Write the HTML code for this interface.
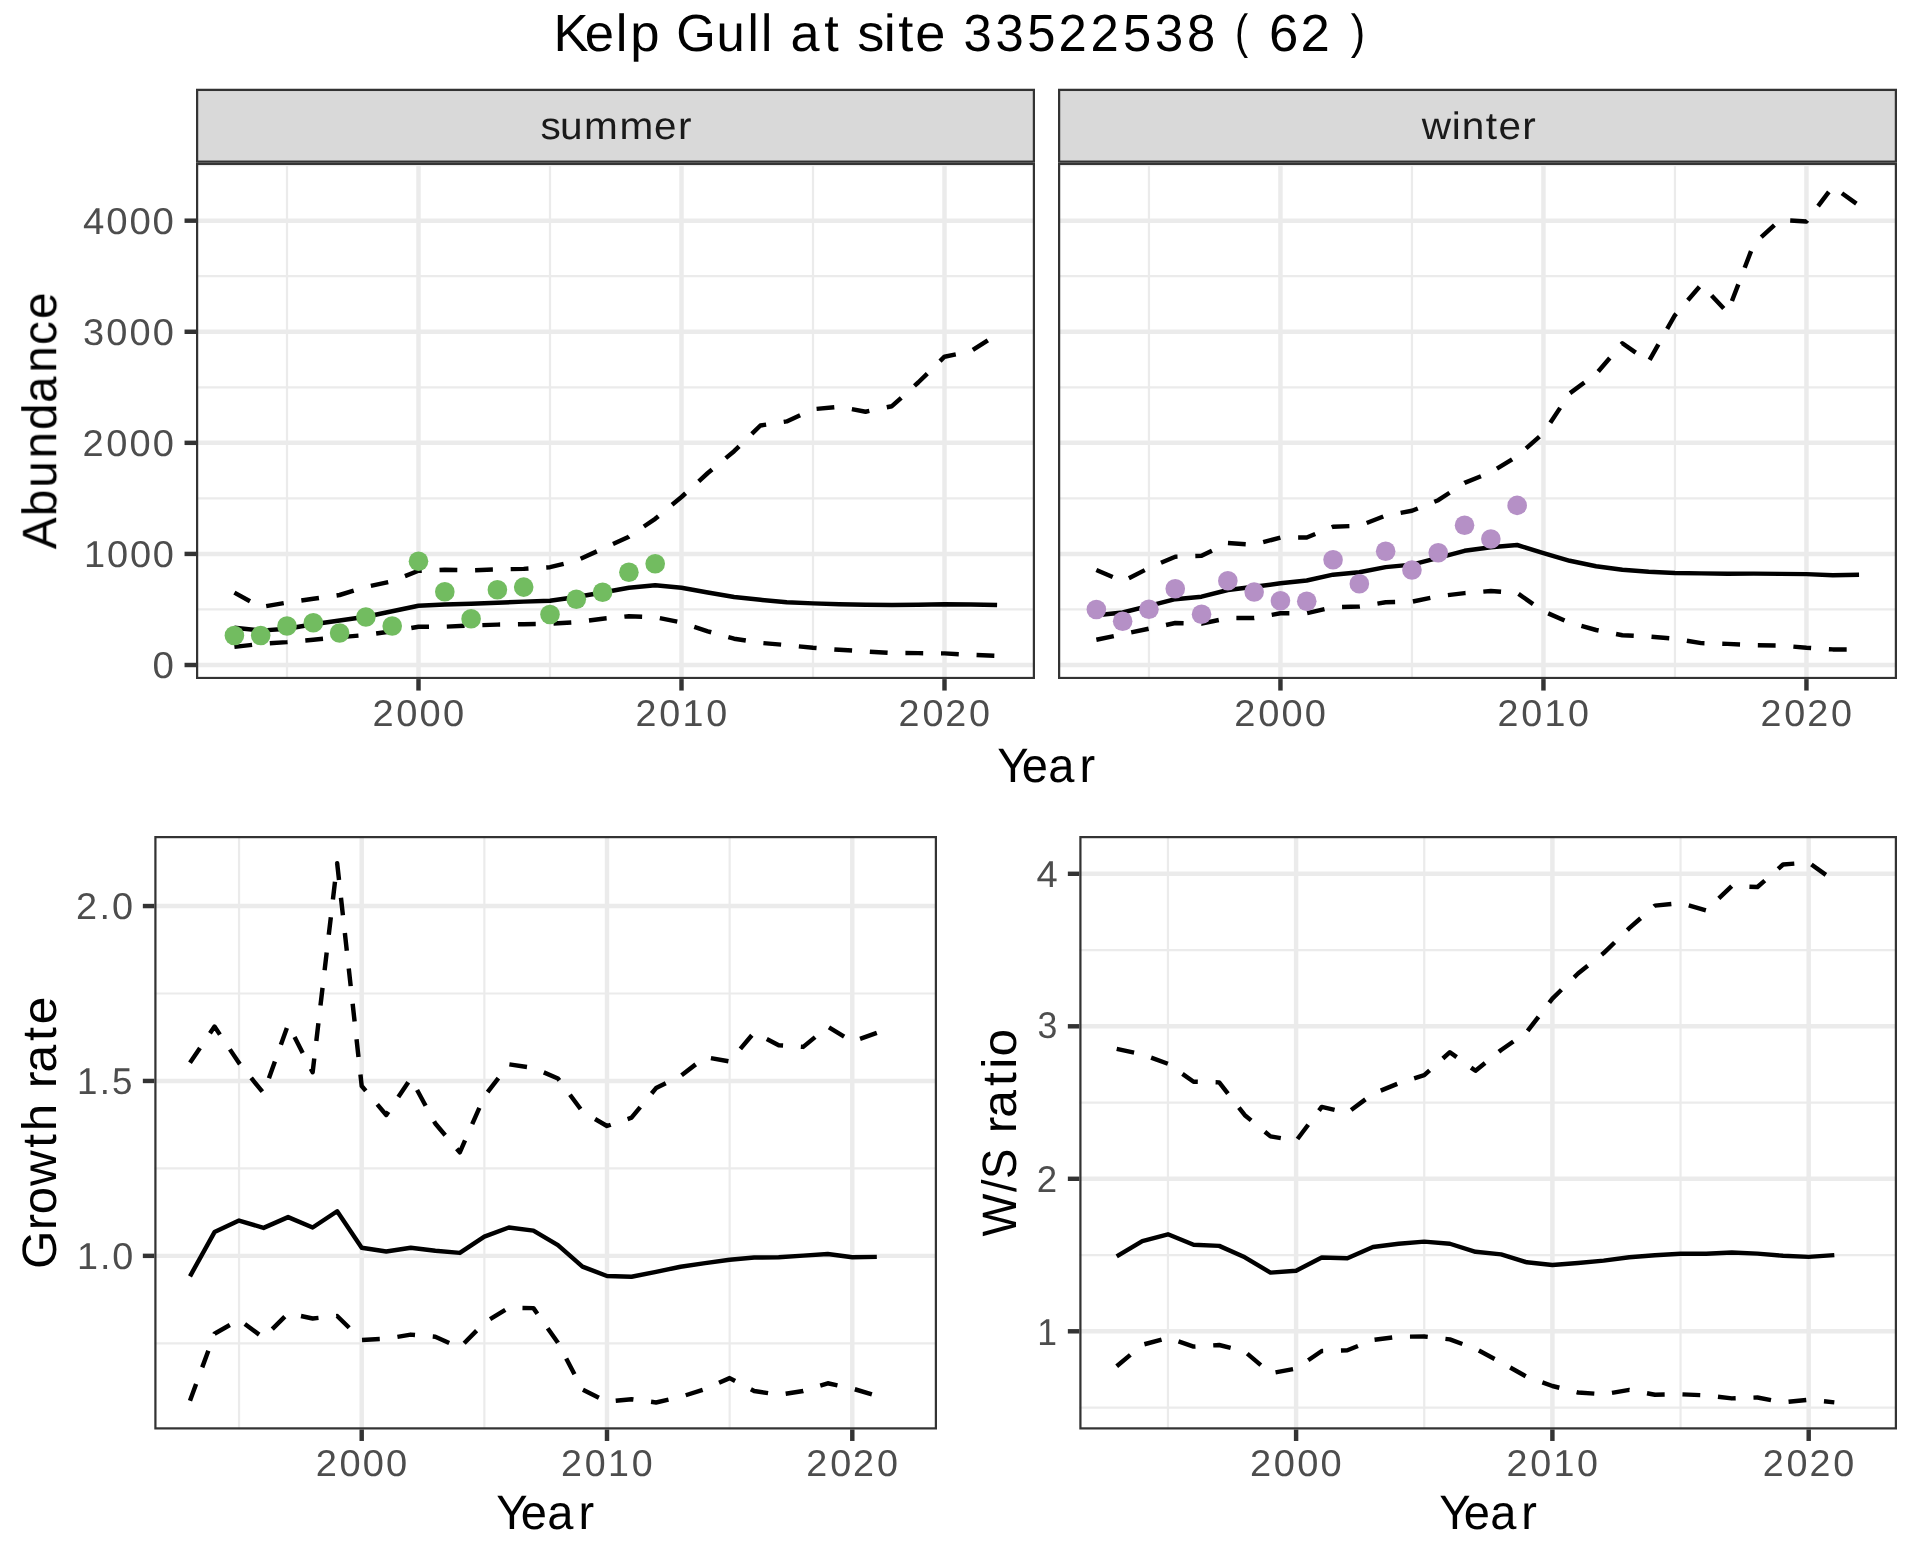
<!DOCTYPE html>
<html lang="en"><head><meta charset="utf-8"><title>Kelp Gull at site 33522538 ( 62 )</title>
<style>
html,body{margin:0;padding:0;background:#fff;}
body{width:1920px;height:1560px;overflow:hidden;}
svg{display:block;}
text{font-family:"Liberation Sans",sans-serif;text-rendering:geometricPrecision;}
.gM{stroke:#EBEBEB;stroke-width:4.45;fill:none}
.gm{stroke:#EBEBEB;stroke-width:2.22;fill:none}
.ln{stroke:#000;stroke-width:4.45;fill:none;stroke-linejoin:round;stroke-linecap:butt}
.ds{stroke:#000;stroke-width:4.45;fill:none;stroke-linejoin:round;stroke-linecap:butt;stroke-dasharray:17.8 17.8}
.bd{stroke:#333333;stroke-width:4.45;fill:none}
.tk{stroke:#333333;stroke-width:4.45;fill:none}
</style></head><body>
<svg width="1920" height="1560" viewBox="0 0 1920 1560">
<rect x="0" y="0" width="1920" height="1560" fill="#ffffff"/>
<defs>
<clipPath id="cs"><rect x="196" y="162.75" width="839" height="516.35"/></clipPath>
<clipPath id="cw"><rect x="1058" y="162.75" width="839" height="516.35"/></clipPath>
<clipPath id="cbl"><rect x="154.3" y="836" width="782.7" height="593.5"/></clipPath>
<clipPath id="cbr"><rect x="1079.3" y="836" width="817.7" height="593.5"/></clipPath>
<clipPath id="css"><rect x="196" y="88.8" width="839" height="73.95"/></clipPath>
<clipPath id="csw"><rect x="1058" y="88.8" width="839" height="73.95"/></clipPath>
</defs>
<g clip-path="url(#cs)">
<rect x="196" y="162.75" width="839" height="516.35" fill="#ffffff"/>
<line class="gm" x1="196" x2="1035" y1="609.46" y2="609.46"/>
<line class="gm" x1="196" x2="1035" y1="498.38" y2="498.38"/>
<line class="gm" x1="196" x2="1035" y1="387.3" y2="387.3"/>
<line class="gm" x1="196" x2="1035" y1="276.22" y2="276.22"/>
<line class="gm" x1="196" x2="1035" y1="165.14" y2="165.14"/>
<line class="gm" x1="287" x2="287" y1="162.75" y2="679.1"/>
<line class="gm" x1="550" x2="550" y1="162.75" y2="679.1"/>
<line class="gm" x1="813" x2="813" y1="162.75" y2="679.1"/>
<line class="gM" x1="196" x2="1035" y1="665" y2="665"/>
<line class="gM" x1="196" x2="1035" y1="553.92" y2="553.92"/>
<line class="gM" x1="196" x2="1035" y1="442.84" y2="442.84"/>
<line class="gM" x1="196" x2="1035" y1="331.76" y2="331.76"/>
<line class="gM" x1="196" x2="1035" y1="220.68" y2="220.68"/>
<line class="gM" x1="418.5" x2="418.5" y1="162.75" y2="679.1"/>
<line class="gM" x1="681.5" x2="681.5" y1="162.75" y2="679.1"/>
<line class="gM" x1="944.5" x2="944.5" y1="162.75" y2="679.1"/>
<polyline class="ln" points="234.4,627.7 260.7,630.6 287,628.7 313.3,624.2 339.6,620.5 365.9,616.7 392.2,611.3 418.5,605.8 444.8,604.5 471.1,603.8 497.4,602.7 523.7,601.6 550,600.8 576.3,597 602.6,592.5 628.9,587.8 655.2,585.3 681.5,587.8 707.8,592.5 734.1,597 760.4,599.8 786.7,602.3 813,603.4 839.3,604.2 865.6,604.7 891.9,605 918.2,604.8 944.5,604.2 970.8,604.5 997.1,605"/>
<polyline class="ds" points="234.4,592.6 260.7,607.1 287,602.6 313.3,598.8 339.6,595 365.9,587 392.2,581.2 418.5,570.8 444.8,569.8 471.1,570.3 497.4,569.4 523.7,568.9 550,567.2 576.3,560.8 602.6,548.7 628.9,536.7 655.2,518.8 681.5,497 707.8,473 734.1,451.2 760.4,425.5 786.7,421.4 813,409.2 839.3,406.8 865.6,411.7 891.9,406.2 918.2,382.5 944.5,356.7 970.8,351.3 997.1,334.3"/>
<polyline class="ds" points="234.4,646.9 260.7,643.9 287,642.1 313.3,639.7 339.6,637.2 365.9,635 392.2,631.3 418.5,626.7 444.8,626.7 471.1,625.5 497.4,624.6 523.7,624.2 550,623.8 576.3,622.2 602.6,618.7 628.9,616.2 655.2,617.2 681.5,622.5 707.8,631.3 734.1,638.7 760.4,642.9 786.7,645.1 813,647.8 839.3,649.8 865.6,651.4 891.9,653 918.2,653.1 944.5,653.4 970.8,654.8 997.1,655.8"/>
<circle cx="234.4" cy="635.5" r="9.8" fill="#72BC60"/>
<circle cx="260.7" cy="635.5" r="9.8" fill="#72BC60"/>
<circle cx="287" cy="626" r="9.8" fill="#72BC60"/>
<circle cx="313.3" cy="622.8" r="9.8" fill="#72BC60"/>
<circle cx="339.6" cy="633" r="9.8" fill="#72BC60"/>
<circle cx="365.9" cy="617" r="9.8" fill="#72BC60"/>
<circle cx="392.2" cy="626" r="9.8" fill="#72BC60"/>
<circle cx="418.5" cy="561.2" r="9.8" fill="#72BC60"/>
<circle cx="444.8" cy="591.8" r="9.8" fill="#72BC60"/>
<circle cx="471.1" cy="618.8" r="9.8" fill="#72BC60"/>
<circle cx="497.4" cy="589.7" r="9.8" fill="#72BC60"/>
<circle cx="523.7" cy="587.1" r="9.8" fill="#72BC60"/>
<circle cx="550" cy="614.5" r="9.8" fill="#72BC60"/>
<circle cx="576.3" cy="599.3" r="9.8" fill="#72BC60"/>
<circle cx="602.6" cy="592.3" r="9.8" fill="#72BC60"/>
<circle cx="628.9" cy="572.2" r="9.8" fill="#72BC60"/>
<circle cx="655.2" cy="563.8" r="9.8" fill="#72BC60"/>
<rect class="bd" x="196" y="162.75" width="839" height="516.35"/>
</g>
<line class="tk" x1="418.5" x2="418.5" y1="679.1" y2="690.56"/>
<line class="tk" x1="681.5" x2="681.5" y1="679.1" y2="690.56"/>
<line class="tk" x1="944.5" x2="944.5" y1="679.1" y2="690.56"/>
<line class="tk" x1="184.54" x2="196" y1="665" y2="665"/>
<line class="tk" x1="184.54" x2="196" y1="553.92" y2="553.92"/>
<line class="tk" x1="184.54" x2="196" y1="442.84" y2="442.84"/>
<line class="tk" x1="184.54" x2="196" y1="331.76" y2="331.76"/>
<line class="tk" x1="184.54" x2="196" y1="220.68" y2="220.68"/>
<g clip-path="url(#cw)">
<rect x="1058" y="162.75" width="839" height="516.35" fill="#ffffff"/>
<line class="gm" x1="1058" x2="1897" y1="609.46" y2="609.46"/>
<line class="gm" x1="1058" x2="1897" y1="498.38" y2="498.38"/>
<line class="gm" x1="1058" x2="1897" y1="387.3" y2="387.3"/>
<line class="gm" x1="1058" x2="1897" y1="276.22" y2="276.22"/>
<line class="gm" x1="1058" x2="1897" y1="165.14" y2="165.14"/>
<line class="gm" x1="1148.95" x2="1148.95" y1="162.75" y2="679.1"/>
<line class="gm" x1="1411.95" x2="1411.95" y1="162.75" y2="679.1"/>
<line class="gm" x1="1674.95" x2="1674.95" y1="162.75" y2="679.1"/>
<line class="gM" x1="1058" x2="1897" y1="665" y2="665"/>
<line class="gM" x1="1058" x2="1897" y1="553.92" y2="553.92"/>
<line class="gM" x1="1058" x2="1897" y1="442.84" y2="442.84"/>
<line class="gM" x1="1058" x2="1897" y1="331.76" y2="331.76"/>
<line class="gM" x1="1058" x2="1897" y1="220.68" y2="220.68"/>
<line class="gM" x1="1280.45" x2="1280.45" y1="162.75" y2="679.1"/>
<line class="gM" x1="1543.45" x2="1543.45" y1="162.75" y2="679.1"/>
<line class="gM" x1="1806.45" x2="1806.45" y1="162.75" y2="679.1"/>
<polyline class="ln" points="1096.35,615.3 1122.65,612.5 1148.95,605.8 1175.25,599.2 1201.55,596.7 1227.85,590 1254.15,586.7 1280.45,583.3 1306.75,580.5 1333.05,574.7 1359.35,572.2 1385.65,567.1 1411.95,564.6 1438.25,557.9 1464.55,550.8 1490.85,547.3 1517.15,545 1543.45,553.1 1569.75,560.8 1596.05,566.2 1622.35,569.8 1648.65,571.7 1674.95,573 1701.25,573.4 1727.55,573.75 1753.85,573.6 1780.15,573.9 1806.45,574.1 1832.75,575.2 1859.05,574.7"/>
<polyline class="ds" points="1096.35,570 1122.65,581.3 1148.95,568 1175.25,556.7 1201.55,555.8 1227.85,543 1254.15,544.7 1280.45,537.5 1306.75,537.5 1333.05,526.7 1359.35,525.8 1385.65,515.6 1411.95,510.8 1438.25,500.2 1464.55,482.9 1490.85,472.3 1517.15,456.3 1543.45,433.1 1569.75,393.3 1596.05,374 1622.35,343.3 1648.65,361.7 1674.95,315.2 1701.25,284.6 1727.55,312.5 1753.85,243.8 1780.15,220 1806.45,221.5 1832.75,186.7 1859.05,205.6"/>
<polyline class="ds" points="1096.35,639.7 1122.65,634.2 1148.95,628.7 1175.25,623 1201.55,623.7 1227.85,618 1254.15,618 1280.45,613.3 1306.75,613.3 1333.05,607.2 1359.35,606.5 1385.65,602.3 1411.95,601.7 1438.25,596.3 1464.55,593.1 1490.85,591 1517.15,592.9 1543.45,611.3 1569.75,622.7 1596.05,630 1622.35,635.2 1648.65,636.6 1674.95,638.75 1701.25,643.1 1727.55,643.9 1753.85,645.2 1780.15,645.5 1806.45,647.8 1832.75,649.4 1859.05,649.4"/>
<circle cx="1096.35" cy="609.5" r="9.8" fill="#B590C6"/>
<circle cx="1122.65" cy="621.3" r="9.8" fill="#B590C6"/>
<circle cx="1148.95" cy="609.2" r="9.8" fill="#B590C6"/>
<circle cx="1175.25" cy="588.8" r="9.8" fill="#B590C6"/>
<circle cx="1201.55" cy="614.3" r="9.8" fill="#B590C6"/>
<circle cx="1227.85" cy="580.8" r="9.8" fill="#B590C6"/>
<circle cx="1254.15" cy="592" r="9.8" fill="#B590C6"/>
<circle cx="1280.45" cy="600.8" r="9.8" fill="#B590C6"/>
<circle cx="1306.75" cy="601.2" r="9.8" fill="#B590C6"/>
<circle cx="1333.05" cy="559.7" r="9.8" fill="#B590C6"/>
<circle cx="1359.35" cy="583.7" r="9.8" fill="#B590C6"/>
<circle cx="1385.65" cy="551.2" r="9.8" fill="#B590C6"/>
<circle cx="1411.95" cy="570" r="9.8" fill="#B590C6"/>
<circle cx="1438.25" cy="552.7" r="9.8" fill="#B590C6"/>
<circle cx="1464.55" cy="525.2" r="9.8" fill="#B590C6"/>
<circle cx="1490.85" cy="539" r="9.8" fill="#B590C6"/>
<circle cx="1517.15" cy="505.4" r="9.8" fill="#B590C6"/>
<rect class="bd" x="1058" y="162.75" width="839" height="516.35"/>
</g>
<line class="tk" x1="1280.45" x2="1280.45" y1="679.1" y2="690.56"/>
<line class="tk" x1="1543.45" x2="1543.45" y1="679.1" y2="690.56"/>
<line class="tk" x1="1806.45" x2="1806.45" y1="679.1" y2="690.56"/>
<g clip-path="url(#cbl)">
<rect x="154.3" y="836" width="782.7" height="593.5" fill="#ffffff"/>
<line class="gm" x1="154.3" x2="937" y1="1343.3" y2="1343.3"/>
<line class="gm" x1="154.3" x2="937" y1="1168.4" y2="1168.4"/>
<line class="gm" x1="154.3" x2="937" y1="993.5" y2="993.5"/>
<line class="gm" x1="239.05" x2="239.05" y1="836" y2="1429.5"/>
<line class="gm" x1="484.35" x2="484.35" y1="836" y2="1429.5"/>
<line class="gm" x1="729.65" x2="729.65" y1="836" y2="1429.5"/>
<line class="gM" x1="154.3" x2="937" y1="1255.85" y2="1255.85"/>
<line class="gM" x1="154.3" x2="937" y1="1080.95" y2="1080.95"/>
<line class="gM" x1="154.3" x2="937" y1="906.05" y2="906.05"/>
<line class="gM" x1="361.7" x2="361.7" y1="836" y2="1429.5"/>
<line class="gM" x1="607" x2="607" y1="836" y2="1429.5"/>
<line class="gM" x1="852.3" x2="852.3" y1="836" y2="1429.5"/>
<polyline class="ln" points="189.99,1276.3 214.52,1232.1 239.05,1220.6 263.58,1227.9 288.11,1217.1 312.64,1227.5 337.17,1211.25 361.7,1247.7 386.23,1251.5 410.76,1247.7 435.29,1250.8 459.82,1252.9 484.35,1236.7 508.88,1227.5 533.41,1230.6 557.94,1245.2 582.47,1266.7 607,1276 631.53,1276.7 656.06,1271.9 680.59,1266.7 705.12,1263.1 729.65,1259.8 754.18,1257.5 778.71,1257.3 803.24,1255.6 827.77,1254 852.3,1257.3 876.83,1256.9"/>
<polyline class="ds" points="189.99,1062.8 214.52,1026.6 239.05,1063 263.58,1093.2 288.11,1024.5 312.64,1072.3 337.17,863.2 361.7,1086 386.23,1115 410.76,1078.4 435.29,1123.5 459.82,1152.4 484.35,1096.5 508.88,1064.3 533.41,1067.9 557.94,1078.5 582.47,1111.6 607,1126 631.53,1117.7 656.06,1088.1 680.59,1076 705.12,1057.1 729.65,1061.5 754.18,1032.5 778.71,1045.2 803.24,1046.9 827.77,1026.7 852.3,1041.7 876.83,1032.9"/>
<polyline class="ds" points="189.99,1400.8 214.52,1333.75 239.05,1319.8 263.58,1337.9 288.11,1313.3 312.64,1318.5 337.17,1316 361.7,1340 386.23,1338.75 410.76,1334.6 435.29,1336.7 459.82,1347.7 484.35,1322.7 508.88,1307.7 533.41,1308.1 557.94,1342.7 582.47,1389.6 607,1401.7 631.53,1399.2 656.06,1402.5 680.59,1396.9 705.12,1389 729.65,1378.1 754.18,1391 778.71,1394.8 803.24,1391 827.77,1383.3 852.3,1388.5 876.83,1395.8"/>
<rect class="bd" x="154.3" y="836" width="782.7" height="593.5"/>
</g>
<line class="tk" x1="361.7" x2="361.7" y1="1429.5" y2="1440.96"/>
<line class="tk" x1="607" x2="607" y1="1429.5" y2="1440.96"/>
<line class="tk" x1="852.3" x2="852.3" y1="1429.5" y2="1440.96"/>
<line class="tk" x1="142.84" x2="154.3" y1="1255.85" y2="1255.85"/>
<line class="tk" x1="142.84" x2="154.3" y1="1080.95" y2="1080.95"/>
<line class="tk" x1="142.84" x2="154.3" y1="906.05" y2="906.05"/>
<g clip-path="url(#cbr)">
<rect x="1079.3" y="836" width="817.7" height="593.5" fill="#ffffff"/>
<line class="gm" x1="1079.3" x2="1897" y1="1407.55" y2="1407.55"/>
<line class="gm" x1="1079.3" x2="1897" y1="1255.05" y2="1255.05"/>
<line class="gm" x1="1079.3" x2="1897" y1="1102.55" y2="1102.55"/>
<line class="gm" x1="1079.3" x2="1897" y1="950.05" y2="950.05"/>
<line class="gm" x1="1167.95" x2="1167.95" y1="836" y2="1429.5"/>
<line class="gm" x1="1424.25" x2="1424.25" y1="836" y2="1429.5"/>
<line class="gm" x1="1680.55" x2="1680.55" y1="836" y2="1429.5"/>
<line class="gM" x1="1079.3" x2="1897" y1="1331.3" y2="1331.3"/>
<line class="gM" x1="1079.3" x2="1897" y1="1178.8" y2="1178.8"/>
<line class="gM" x1="1079.3" x2="1897" y1="1026.3" y2="1026.3"/>
<line class="gM" x1="1079.3" x2="1897" y1="873.8" y2="873.8"/>
<line class="gM" x1="1296.1" x2="1296.1" y1="836" y2="1429.5"/>
<line class="gM" x1="1552.4" x2="1552.4" y1="836" y2="1429.5"/>
<line class="gM" x1="1808.7" x2="1808.7" y1="836" y2="1429.5"/>
<polyline class="ln" points="1116.69,1256.4 1142.32,1241.1 1167.95,1234.3 1193.58,1244.8 1219.21,1245.9 1244.84,1257.3 1270.47,1272.6 1296.1,1270.7 1321.73,1257.5 1347.36,1258.2 1372.99,1247 1398.62,1243.75 1424.25,1241.6 1449.88,1243.75 1475.51,1251.8 1501.14,1254.4 1526.77,1262.3 1552.4,1265 1578.03,1263 1603.66,1260.6 1629.29,1257.3 1654.92,1255.3 1680.55,1253.8 1706.18,1253.8 1731.81,1252.5 1757.44,1253.6 1783.07,1255.8 1808.7,1256.9 1834.33,1255.1"/>
<polyline class="ds" points="1116.69,1048.9 1142.32,1054.4 1167.95,1063.8 1193.58,1081.7 1219.21,1082.4 1244.84,1115.2 1270.47,1136.4 1296.1,1140.8 1321.73,1106.9 1347.36,1112.8 1372.99,1093.8 1398.62,1083.3 1424.25,1075.2 1449.88,1052.2 1475.51,1070.8 1501.14,1050 1526.77,1032.1 1552.4,998.6 1578.03,973.5 1603.66,953.1 1629.29,928.2 1654.92,905.6 1680.55,903 1706.18,910.4 1731.81,885.9 1757.44,887 1783.07,864.5 1808.7,862.5 1834.33,880.9"/>
<polyline class="ds" points="1116.69,1366.3 1142.32,1344.8 1167.95,1337.8 1193.58,1346.6 1219.21,1345 1244.84,1351.6 1270.47,1373.3 1296.1,1368.5 1321.73,1351 1347.36,1350.3 1372.99,1340 1398.62,1336.7 1424.25,1336.5 1449.88,1339.4 1475.51,1348.8 1501.14,1362.4 1526.77,1376.8 1552.4,1386 1578.03,1392.5 1603.66,1394.3 1629.29,1389.9 1654.92,1394.7 1680.55,1394.3 1706.18,1395.4 1731.81,1398.4 1757.44,1397.5 1783.07,1402.4 1808.7,1399.7 1834.33,1402.4"/>
<rect class="bd" x="1079.3" y="836" width="817.7" height="593.5"/>
</g>
<line class="tk" x1="1296.1" x2="1296.1" y1="1429.5" y2="1440.96"/>
<line class="tk" x1="1552.4" x2="1552.4" y1="1429.5" y2="1440.96"/>
<line class="tk" x1="1808.7" x2="1808.7" y1="1429.5" y2="1440.96"/>
<line class="tk" x1="1067.84" x2="1079.3" y1="1331.3" y2="1331.3"/>
<line class="tk" x1="1067.84" x2="1079.3" y1="1178.8" y2="1178.8"/>
<line class="tk" x1="1067.84" x2="1079.3" y1="1026.3" y2="1026.3"/>
<line class="tk" x1="1067.84" x2="1079.3" y1="873.8" y2="873.8"/>
<g clip-path="url(#css)"><rect x="196" y="88.8" width="839" height="73.95" fill="#D9D9D9" stroke="#333333" stroke-width="4.45"/></g>
<g clip-path="url(#csw)"><rect x="1058" y="88.8" width="839" height="73.95" fill="#D9D9D9" stroke="#333333" stroke-width="4.45"/></g>
<g opacity="0.999">
<text transform="scale(1.0088,1)" x="548.63 579.62 610.43 624.71" y="51" font-size="52.2" fill="#000000">Kelp</text>
<text transform="scale(0.9739,1)" x="694.32 735.6 767.46 781.5" y="51" font-size="52.2" fill="#000000">Gull</text>
<text transform="scale(1.0004,1)" x="790.2 824.02" y="51" font-size="52.2" fill="#000000">at</text>
<text transform="scale(1.0403,1)" x="824.06 849.55 863.51 879.88" y="51" font-size="52.2" fill="#000000">site</text>
<text transform="scale(0.9727,1)" x="990.62 1023.44 1055.99 1088.33 1121.15 1154.45 1187.54 1220.29" y="51" font-size="52.2" fill="#000000">33522538</text>
<text transform="scale(0.8285,1)" x="1490.7" y="47.7" font-size="47.8" fill="#000000">(</text>
<text transform="scale(1.0094,1)" x="1257.3 1288.28" y="51" font-size="52.2" fill="#000000">62</text>
<text transform="scale(0.9074,1)" x="1488.58" y="47.7" font-size="47.8" fill="#000000">)</text>
<text transform="scale(1.0569,1)" x="511.46 529.98 552.58 586.19 618.91 641.45" y="138.6" font-size="38.4" fill="#1A1A1A">summer</text>
<text transform="scale(1.0571,1)" x="1344.94 1373.4 1382.71 1405.51 1417.64 1440.1" y="138.6" font-size="38.4" fill="#1A1A1A">winter</text>
<text transform="scale(1.0287,1)" x="80.7 103.23 125.77 148.3" y="233.83" font-size="37.3" fill="#4D4D4D">4000</text>
<text transform="scale(1.0186,1)" x="81.54 104.32 127.14 149.97" y="344.86" font-size="37.3" fill="#4D4D4D">3000</text>
<text transform="scale(1.0197,1)" x="80.94 104.2 126.99 149.77" y="455.79" font-size="37.3" fill="#4D4D4D">2000</text>
<text transform="scale(1.0180,1)" x="82.62 105.23 127.64 150.06" y="567.02" font-size="37.3" fill="#4D4D4D">1000</text>
<text transform="scale(1.0319,1)" x="147.78" y="678.1" font-size="37.3" fill="#4D4D4D">0</text>
<text transform="scale(1.0197,1)" x="365.27 388.62 411.49 434.35" y="725.8" font-size="37.3" fill="#4D4D4D">2000</text>
<text transform="scale(1.0087,1)" x="630.02 653.68 676.68 700.05" y="725.8" font-size="37.3" fill="#4D4D4D">2010</text>
<text transform="scale(1.0106,1)" x="889.1 912.71 935.36 958.96" y="725.8" font-size="37.3" fill="#4D4D4D">2020</text>
<text transform="scale(1.0197,1)" x="1210.53 1233.87 1256.74 1279.61" y="725.8" font-size="37.3" fill="#4D4D4D">2000</text>
<text transform="scale(1.0087,1)" x="1484.53 1508.19 1531.19 1554.55" y="725.8" font-size="37.3" fill="#4D4D4D">2010</text>
<text transform="scale(1.0106,1)" x="1742.03 1765.63 1788.28 1811.89" y="725.8" font-size="37.3" fill="#4D4D4D">2020</text>
<text transform="scale(1.0148,1)" x="74.99 98.17 110.49" y="919.05" font-size="37.3" fill="#4D4D4D">2.0</text>
<text transform="scale(0.9840,1)" x="78.36 101.45 113.85" y="1093.85" font-size="37.3" fill="#4D4D4D">1.5</text>
<text transform="scale(1.0115,1)" x="76.15 98.79 110.87" y="1268.85" font-size="37.3" fill="#4D4D4D">1.0</text>
<text transform="scale(1.0215,1)" x="1014.8" y="887" font-size="37.3" fill="#4D4D4D">4</text>
<text transform="scale(0.9556,1)" x="1085.72" y="1038.4" font-size="37.3" fill="#4D4D4D">3</text>
<text transform="scale(0.9828,1)" x="1054.92" y="1192" font-size="37.3" fill="#4D4D4D">2</text>
<text transform="scale(0.9514,1)" x="1090.31" y="1345" font-size="37.3" fill="#4D4D4D">1</text>
<text transform="scale(1.0197,1)" x="309.57 332.92 355.79 378.65" y="1475.9" font-size="37.3" fill="#4D4D4D">2000</text>
<text transform="scale(1.0087,1)" x="556.16 579.83 602.83 626.19" y="1475.9" font-size="37.3" fill="#4D4D4D">2010</text>
<text transform="scale(1.0106,1)" x="797.86 821.47 844.12 867.73" y="1475.9" font-size="37.3" fill="#4D4D4D">2020</text>
<text transform="scale(1.0197,1)" x="1225.88 1249.22 1272.09 1294.96" y="1475.9" font-size="37.3" fill="#4D4D4D">2000</text>
<text transform="scale(1.0087,1)" x="1493.4 1517.06 1540.06 1563.43" y="1475.9" font-size="37.3" fill="#4D4D4D">2010</text>
<text transform="scale(1.0106,1)" x="1744.25 1767.86 1790.51 1814.12" y="1475.9" font-size="37.3" fill="#4D4D4D">2020</text>
<text transform="scale(0.9733,1)" x="1024.49 1049.9 1077 1109.21" y="781.9" font-size="48.3" fill="#000000">Year</text>
<text transform="scale(0.9733,1)" x="509.82 535.15 562.16 594.28" y="1528.9" font-size="48.3" fill="#000000">Year</text>
<text transform="scale(0.9733,1)" x="1478.71 1504.03 1531.02 1563.12" y="1528.9" font-size="48.3" fill="#000000">Year</text>
<text transform="translate(56.2,0) rotate(-90) scale(0.9869,1)" x="-556.59 -523.09 -494.14 -464.61 -435.64 -408.23 -377.56 -349.46 -323.23" y="0" font-size="48.3" fill="#000000">Abundance</text>
<text transform="translate(56.15,0) rotate(-90) scale(1.0219,1)" x="-1241.78 -1203.9 -1188.34 -1160.63 -1123.12 -1106.9" y="0" font-size="48.3" fill="#000000">Growth</text>
<text transform="translate(56.15,0) rotate(-90) scale(1.0395,1)" x="-1046.83 -1031.99 -1001.35 -985.46" y="0" font-size="48.3" fill="#000000">rate</text>
<text transform="translate(1016.15,0) rotate(-90) scale(0.9401,1)" x="-1315.34 -1267.96 -1254.18" y="0" font-size="48.3" fill="#000000">W/S</text>
<text transform="translate(1016.15,0) rotate(-90) scale(1.0307,1)" x="-1099.53 -1084.46 -1053.56 -1037.02 -1025.11" y="0" font-size="48.3" fill="#000000">ratio</text>
</g>
</svg></body></html>
